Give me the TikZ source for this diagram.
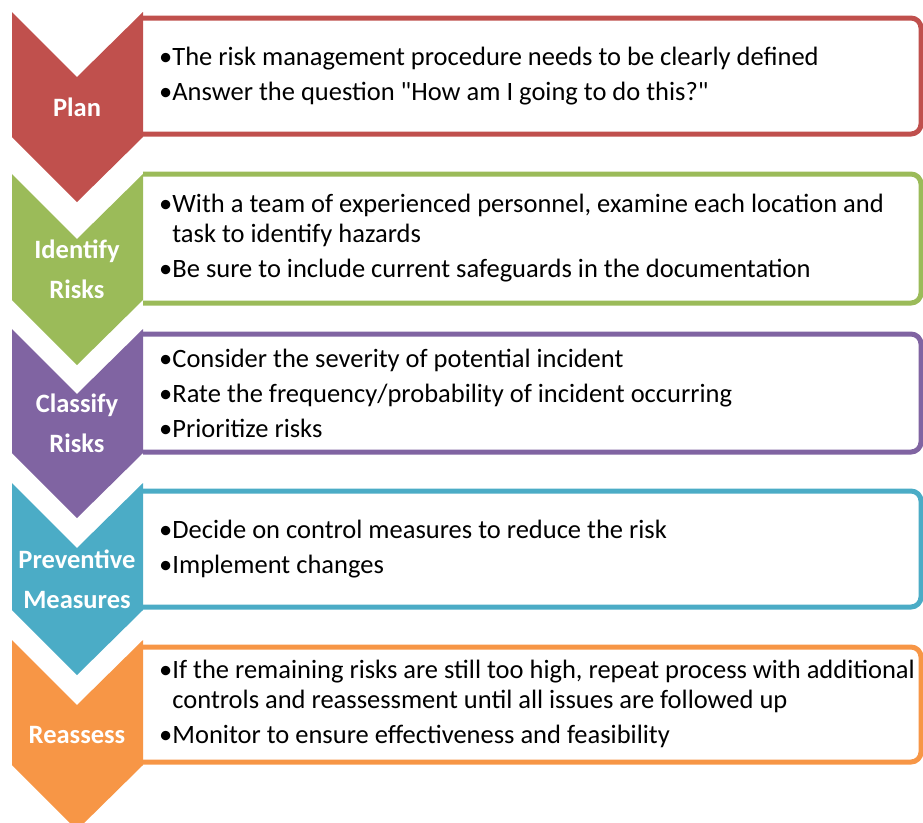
\documentclass[tikz,border=0pt]{standalone}
\usepackage{fontspec}
\setmainfont{Carlito}[Ligatures=TeXOff]
\usetikzlibrary{positioning}
\definecolor{planred}{HTML}{C0504D}
\definecolor{identgreen}{HTML}{9BBB59}
\definecolor{classpurple}{HTML}{8064A2}
\definecolor{prevblue}{HTML}{4BACC6}
\definecolor{reorange}{HTML}{F79646}
\tikzset{
  stepbox/.style={draw=#1, fill=white, line width=5pt, rounded corners=10pt},
  steplabel/.style={text=white, align=center, inner sep=0pt, font=\bfseries\fontsize{26.5}{40}\selectfont},
  steptext/.style={anchor=west, align=left, inner sep=0pt, font=\fontsize{26.5}{30}\selectfont}
}

\begin{document}
\begin{tikzpicture}[x=1pt,y=-1pt]
\clip (0,0) rectangle (923,822);
% text boxes, left ends hidden behind the chevrons
\begin{scope}
\clip (143,0) rectangle (923,822);
\foreach \top/\bot/\col in {18/134/planred, 174/303/identgreen, 334/452/classpurple, 491/607/prevblue, 647/762/reorange}
  \draw[stepbox=\col] (120,\top) rectangle (921,\bot);
\end{scope}
% chevrons
\foreach \top/\bot/\col/\name/\lab in {12/137/planred/plan/Plan, 174/300/identgreen/ident/{Identify\\Risks}, 329/453/classpurple/classify/{Classify\\Risks}, 483/610/prevblue/prevent/{Preventive\\Measures}, 640/765/reorange/reassess/Reassess}
{
  \fill[\col] (12,\top) -- (77,\top+65) -- (143,\top) -- (143,\bot) -- (77,\bot+65) -- (12,\bot) -- cycle;
  \node[steplabel] (\name) at (77,{(\top+\bot+65)/2}) {\lab};
}
\node[steptext] (plantext) at (159,76) {•The risk management procedure needs to be clearly defined\\[5pt]•Answer the question "How am I going to do this?"};
\node[steptext] (identtext) at (159,238) {•With a team of experienced personnel, examine each location and\\\hphantom{•}task to identify hazards\\[5pt]•Be sure to include current safeguards in the documentation};
\node[steptext] (classifytext) at (159,393) {•Consider the severity of potential incident\\[5pt]•Rate the frequency/probability of incident occurring\\[5pt]•Prioritize risks};
\node[steptext] (preventtext) at (159,549) {•Decide on control measures to reduce the risk\\[5pt]•Implement changes};
\node[steptext] (reassesstext) at (159,704) {•If the remaining risks are still too high, repeat process with additional\\\hphantom{•}controls and reassessment until all issues are followed up\\[5pt]•Monitor to ensure effectiveness and feasibility};
\end{tikzpicture}
\end{document}
